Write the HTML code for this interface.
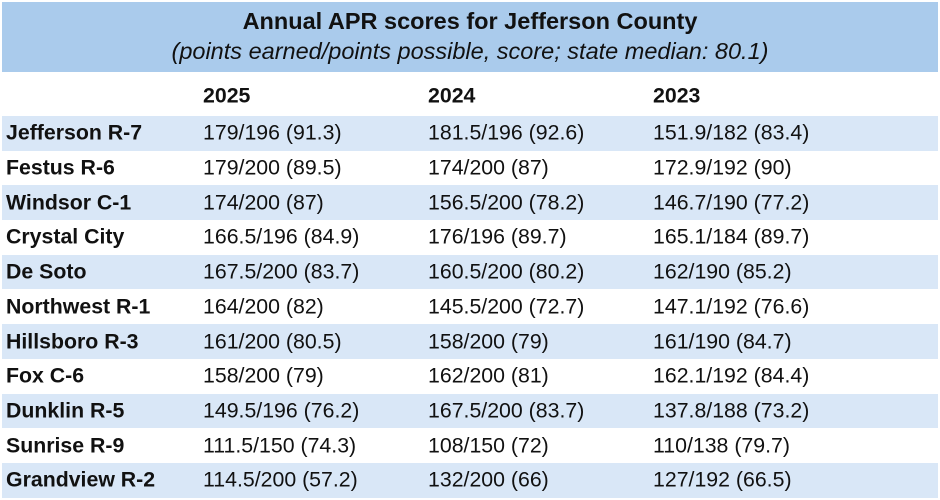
<!DOCTYPE html>
<html><head><meta charset="utf-8"><style>
body{margin:0;width:940px;height:500px;background:#fff;font-family:"Liberation Sans",Arial,sans-serif;color:#111;position:relative;overflow:hidden}
.t{position:absolute;left:2px;top:2px;width:936px;height:70px;background:#aacbec;text-align:center}
.t1{font-weight:bold;font-size:23.5px;position:absolute;top:6px;width:100%}
.t2{font-style:italic;font-size:23.5px;position:absolute;top:36px;width:100%}
.r{position:absolute;left:2px;width:936px;height:34.7px}
.b{background:#d9e7f7}
.r span{position:absolute;font-size:21.3px;top:50%;transform:translateY(-50%);white-space:nowrap}
.n{left:4px;font-weight:bold}
.c1{left:201px}.c2{left:426px}.c3{left:651px}
.h span{font-weight:bold}
</style></head><body>
<div class="t"><div class="t1">Annual APR scores for Jefferson County</div><div class="t2">(points earned/points possible, score; state median: 80.1)</div></div>
<div class="r h" style="top:79px"><span class="c1">2025</span><span class="c2">2024</span><span class="c3">2023</span></div>
<div class="r b" style="top:116px"><span class="n">Jefferson R-7</span><span class="c1">179/196 (91.3)</span><span class="c2">181.5/196 (92.6)</span><span class="c3">151.9/182 (83.4)</span></div>
<div class="r" style="top:150.7px"><span class="n">Festus R-6</span><span class="c1">179/200 (89.5)</span><span class="c2">174/200 (87)</span><span class="c3">172.9/192 (90)</span></div>
<div class="r b" style="top:185.4px"><span class="n">Windsor C-1</span><span class="c1">174/200 (87)</span><span class="c2">156.5/200 (78.2)</span><span class="c3">146.7/190 (77.2)</span></div>
<div class="r" style="top:220.1px"><span class="n">Crystal City</span><span class="c1">166.5/196 (84.9)</span><span class="c2">176/196 (89.7)</span><span class="c3">165.1/184 (89.7)</span></div>
<div class="r b" style="top:254.8px"><span class="n">De Soto</span><span class="c1">167.5/200 (83.7)</span><span class="c2">160.5/200 (80.2)</span><span class="c3">162/190 (85.2)</span></div>
<div class="r" style="top:289.5px"><span class="n">Northwest R-1</span><span class="c1">164/200 (82)</span><span class="c2">145.5/200 (72.7)</span><span class="c3">147.1/192 (76.6)</span></div>
<div class="r b" style="top:324.2px"><span class="n">Hillsboro R-3</span><span class="c1">161/200 (80.5)</span><span class="c2">158/200 (79)</span><span class="c3">161/190 (84.7)</span></div>
<div class="r" style="top:358.9px"><span class="n">Fox C-6</span><span class="c1">158/200 (79)</span><span class="c2">162/200 (81)</span><span class="c3">162.1/192 (84.4)</span></div>
<div class="r b" style="top:393.6px"><span class="n">Dunklin R-5</span><span class="c1">149.5/196 (76.2)</span><span class="c2">167.5/200 (83.7)</span><span class="c3">137.8/188 (73.2)</span></div>
<div class="r" style="top:428.3px"><span class="n">Sunrise R-9</span><span class="c1">111.5/150 (74.3)</span><span class="c2">108/150 (72)</span><span class="c3">110/138 (79.7)</span></div>
<div class="r b" style="top:463px"><span class="n">Grandview R-2</span><span class="c1">114.5/200 (57.2)</span><span class="c2">132/200 (66)</span><span class="c3">127/192 (66.5)</span></div>
</body></html>
